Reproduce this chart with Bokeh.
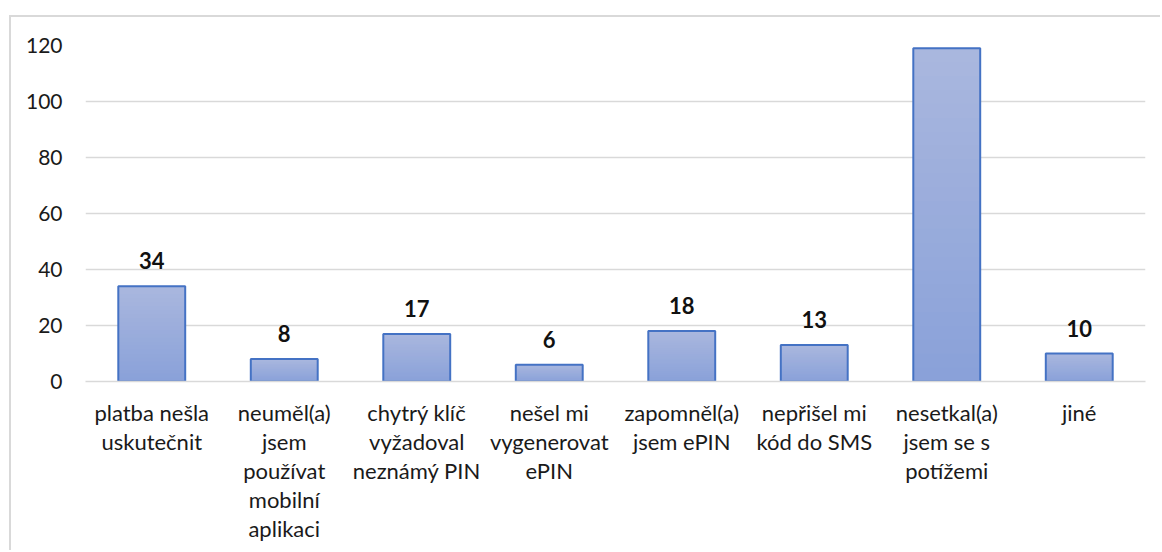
from bokeh.plotting import figure
from bokeh.models import ColumnDataSource, Range1d, FixedTicker
from bokeh.core.properties import value
from bokeh.embed import file_html
from bokeh.resources import INLINE

categories = [
    "platba nešla\nuskutečnit",
    "neuměl(a)\njsem\npoužívat\nmobilní\naplikaci",
    "chytrý klíč\nvyžadoval\nneznámý PIN",
    "nešel mi\nvygenerovat\nePIN",
    "zapomněl(a)\njsem ePIN",
    "nepřišel mi\nkód do SMS",
    "nesetkal(a)\njsem se s\npotížemi",
    "jiné",
]
counts = [34, 8, 17, 6, 18, 13, 119, 10]
y_ticks = [0, 20, 40, 60, 80, 100, 120]

FONT = "Lato"
YMAX = 120
FRAME_H = 336
FRAME_W = 1060

p = figure(
    x_range=categories,
    y_range=Range1d(0, YMAX),
    frame_width=FRAME_W,
    frame_height=FRAME_H,
    min_border_left=74,
    min_border_right=17,
    min_border_top=28,
    min_border_bottom=171,
    output_backend="svg",
    toolbar_location=None,
)
# light grey chart border (only its top and left edges fall inside the window)
p.styles = {"margin-top": "17px", "margin-left": "11px",
            "box-shadow": "-2px -2px 0px 0px #d9d9d9"}

# gradient bars: overlapping layers from top colour to bottom colour
top_rgb = (0xA9, 0xB7, 0xDE)
bot_rgb = (0x8A, 0xA1, 0xD9)
N = 24
for k in range(N, 0, -1):
    t = (k - 1) / (N - 1)
    r = [round(bot_rgb[i] + (top_rgb[i] - bot_rgb[i]) * t) for i in range(3)]
    col = "#%02x%02x%02x" % tuple(r)
    src = ColumnDataSource(dict(x=categories, top=[v * k / N for v in counts]))
    p.vbar(x="x", top="top", bottom=0, width=0.505, source=src,
           fill_color=col, line_color=None)

src = ColumnDataSource(dict(x=categories, top=counts))
p.vbar(x="x", top="top", bottom=0, width=0.505, source=src,
       fill_alpha=0, line_color="#4472c4", line_width=2)

# data labels (clamped near the top of the chart area)
ppu = FRAME_H / YMAX
offsets = [-min(17.0, (YMAX - v) * ppu + 1.5) for v in counts]
lsrc = ColumnDataSource(dict(x=categories, y=counts, label=[str(v) for v in counts], off=offsets))
p.text(x="x", y="y", text="label", y_offset="off", source=lsrc,
       text_align="center", text_baseline="bottom",
       text_font=value(FONT), text_font_style="bold", text_font_size="22px",
       text_color="#111111")

p.xgrid.grid_line_color = None
p.ygrid.grid_line_color = "#d9d9d9"
p.ygrid.grid_line_width = 1.5
p.outline_line_color = None

p.yaxis.ticker = FixedTicker(ticks=y_ticks)
p.yaxis.axis_line_color = None
p.yaxis.major_tick_line_color = None
p.yaxis.minor_tick_line_color = None
p.yaxis.major_label_standoff = 17
p.yaxis.major_label_text_font = FONT
p.yaxis.major_label_text_font_size = "21px"
p.yaxis.major_label_text_color = "#1a1a1a"

p.xaxis.axis_line_color = "#d9d9d9"
p.xaxis.axis_line_width = 1.5
p.xaxis.major_tick_line_color = None
p.xaxis.minor_tick_line_color = None
p.xaxis.major_label_standoff = 11
p.xaxis.major_label_text_font = FONT
p.xaxis.major_label_text_font_size = "22px"
p.xaxis.major_label_text_color = "#1a1a1a"
p.xaxis.major_label_text_line_height = 1.08
p.xaxis.major_label_orientation = "horizontal"

open("out.html", "w").write(file_html(p, INLINE))
